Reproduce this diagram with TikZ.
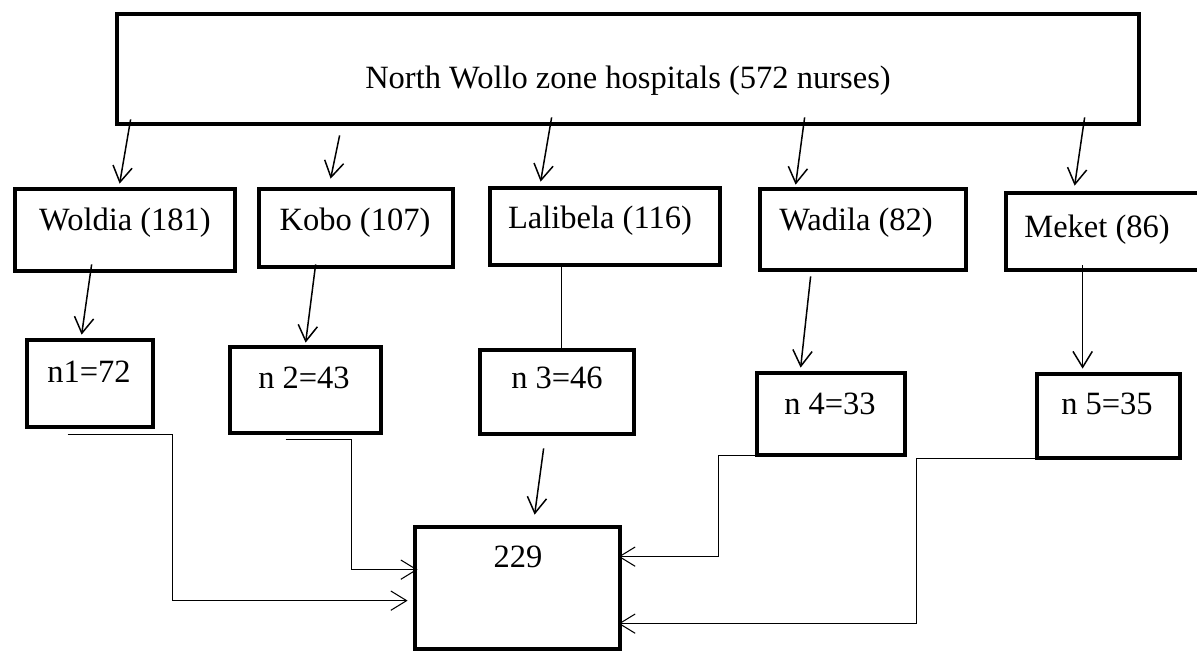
\documentclass[tikz,border=0pt]{standalone}
\usepackage{fontspec}
\setmainfont{Liberation Serif}
\usetikzlibrary{arrows.meta,fit}
\tikzset{
  boxnode/.style={draw=black, line width=2.7pt, inner sep=0pt, fill=none},
  lbl/.style={anchor=base, inner sep=0pt, font=\fontsize{18.5}{22}\selectfont},
  arr/.style={line width=0.85pt, -{Straight Barb[length=9pt,width=11pt,line width=0.85pt]}},
  plainline/.style={line width=0.85pt},
  elbow/.style={line width=0.6pt, -{Straight Barb[length=9pt,width=11pt,line width=0.6pt]}}
}
\begin{document}
\begin{tikzpicture}[x=0.02cm, y=-0.02cm]
\useasboundingbox (0,0) rectangle (1197,654);
\clip (0,0) rectangle (1197,654);
% boxes
\node[boxnode, fit={(117,14) (1139,124)}] (top) {};
\node[boxnode, fit={(15,189) (235,271)}] (woldia) {};
\node[boxnode, fit={(259,189) (453,267)}] (kobo) {};
\node[boxnode, fit={(490,188) (720,265)}] (lalibela) {};
\node[boxnode, fit={(760,189) (966,270)}] (wadila) {};
\node[boxnode, fit={(1006,193) (1230,270)}] (meket) {};
\node[boxnode, fit={(27,340) (153,427)}] (n1) {};
\node[boxnode, fit={(230,347) (381,433)}] (n2) {};
\node[boxnode, fit={(480,350) (634,434)}] (n3) {};
\node[boxnode, fit={(757,373) (905,455)}] (n4) {};
\node[boxnode, fit={(1037,374) (1180,458)}] (n5) {};
\node[boxnode, fit={(415,527) (620,649)}] (total) {};
% texts
\node[lbl] (topT) at (628,88) {North Wollo zone hospitals (572 nurses)};
\node[lbl] (woldiaT) at (125,230) {Woldia (181)};
\node[lbl] (koboT) at (355,230) {Kobo (107)};
\node[lbl] (lalibelaT) at (600,228) {Lalibela (116)};
\node[lbl] (wadilaT) at (856,230) {Wadila (82)};
\node[lbl] (meketT) at (1097,237) {Meket (86)};
\node[lbl] (n1T) at (89,382) {n1=72};
\node[lbl] (n2T) at (304,388) {n 2=43};
\node[lbl] (n3T) at (557,388) {n 3=46};
\node[lbl] (n4T) at (830,414) {n 4=33};
\node[lbl] (n5T) at (1107,414) {n 5=35};
\node[lbl] (totalT) at (518,567) {229};
% top box to hospitals
\draw[arr] ([shift={(16,-7)}]top.south west) -- ([shift={(107,-3)}]woldia.north west);
\draw[arr] ([shift={(225,9)}]top.south west) -- ([shift={(74,-8)}]kobo.north west);
\draw[arr] ([shift={(437,-9)}]top.south west) -- ([shift={(53,-4)}]lalibela.north west);
\draw[arr] ([shift={(690,-9)}]top.south west) -- ([shift={(38,-2)}]wadila.north west);
\draw[arr] ([shift={(970,-9)}]top.south west) -- ([shift={(71,-5)}]meket.north west);
% hospitals to samples
\draw[arr] ([shift={(79,-9)}]woldia.south west) -- ([shift={(57,-3)}]n1.north west);
\draw[arr] ([shift={(59,-5)}]kobo.south west) -- ([shift={(78,-2)}]n2.north west);
\draw[plainline] ([xshift=74*0.02cm]lalibela.south west) -- ([xshift=84*0.02cm]n3.north west);
\draw[arr] ([shift={(53,4)}]wadila.south west) -- ([shift={(46,-3)}]n4.north west);
\draw[arr] ([shift={(79,-7)}]meket.south west) -- ([shift={(48,-3)}]n5.north west);
% samples to total
\draw[arr] ([shift={(66,12)}]n3.south west) -- ([shift={(122,-10)}]total.north west);
\draw[elbow] ([shift={(43,5)}]n1.south west) -- ++(105,0) |- ([shift={(-5,76)}]total.north west);
\draw[elbow] ([shift={(58,4)}]n2.south west) -- ++(66,0) |- ([shift={(5,45)}]total.north west);
\draw[elbow] ([shift={(0,-2)}]n4.south west) -- ++(-36,0) |- ([shift={(-4,32)}]total.north east);
\draw[elbow] ([shift={(60,-2)}]n5.south west) -- ++(-178,0) |- ([shift={(-4,99)}]total.north east);
\end{tikzpicture}
\end{document}
